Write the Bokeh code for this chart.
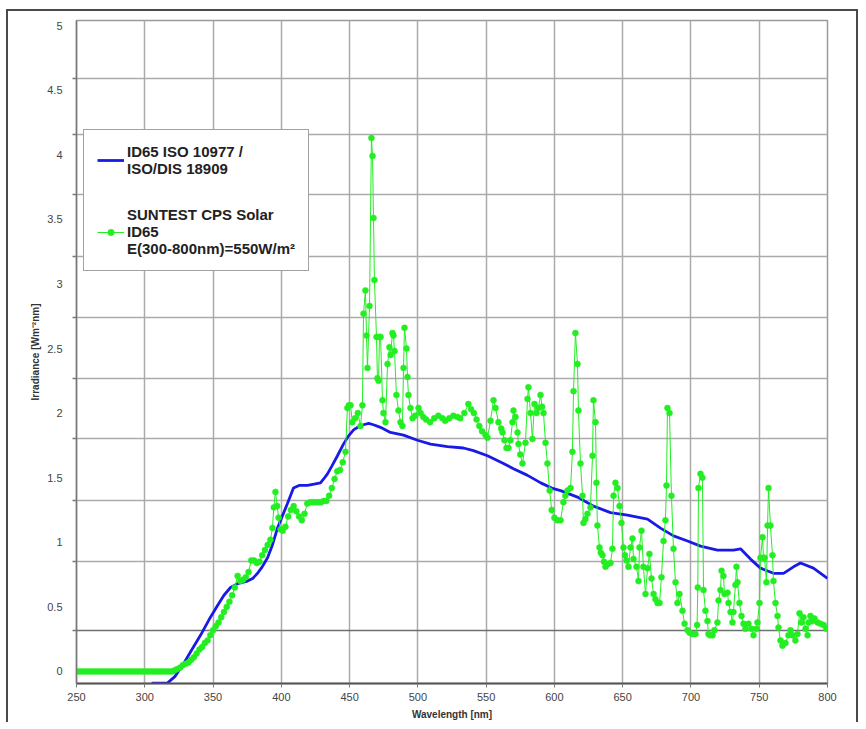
import numpy as np
from bokeh.plotting import figure
from bokeh.models import Range1d, FixedTicker, Grid, Legend, LegendItem
from bokeh.embed import file_html
from bokeh.resources import INLINE

# ---------------- data ----------------
x_ticks = [250, 300, 350, 400, 450, 500, 550, 600, 650, 700, 750, 800]
y_ticks = [0, 0.5, 1, 1.5, 2, 2.5, 3, 3.5, 4, 4.5, 5]

# ID65 ISO 10977 / ISO/DIS 18909 (blue)
blue_nm = [305, 316.6, 322, 328.4, 334, 340.8, 347, 353.3, 358, 362.8, 368,
           375.2, 379, 382.6, 386, 389.9, 393.5, 397.2, 401, 404.5, 408.9, 413,
           419.2, 424, 428.7, 431, 433.8, 437, 441.1, 445.5, 449, 452.9, 456,
           460.2, 464, 467.5, 472.6, 479.9, 489.5, 499.7, 509.3, 521.7, 533.4,
           540.7, 551, 562.7, 570, 580, 590, 598, 604.5, 616.9, 628.6, 641.1,
           653.5, 668.2, 677.7, 687.2, 697.5, 707, 719.4, 731.1, 736.3, 743.6,
           750.9, 760.4, 767.8, 775.1, 780.2, 789.7, 800]
blue_val = [-0.09, -0.09, -0.04, 0.06, 0.16, 0.28, 0.40, 0.51, 0.59, 0.65, 0.68,
            0.70, 0.72, 0.76, 0.81, 0.88, 0.98, 1.11, 1.21, 1.30, 1.42, 1.44,
            1.44, 1.45, 1.46, 1.49, 1.53, 1.59, 1.67, 1.76, 1.82, 1.87, 1.89,
            1.91, 1.92, 1.91, 1.89, 1.85, 1.83, 1.79, 1.76, 1.74, 1.73,
            1.71, 1.67, 1.61, 1.57, 1.52, 1.46, 1.42, 1.40, 1.35, 1.28, 1.23,
            1.21, 1.18, 1.11, 1.05, 1.01, 0.97, 0.94, 0.94, 0.95, 0.87,
            0.80, 0.76, 0.76, 0.81, 0.84, 0.80, 0.72]

# SUNTEST CPS Solar ID65 (green, measured points)
green_nm = [250, 252, 254, 256, 258, 260, 262, 264, 266, 268, 270, 272, 274, 276,
            278, 280, 282, 284, 286, 288, 290, 292, 294, 296, 298, 300, 302, 304,
            306, 308, 310, 312, 314, 316, 318,
            320, 322, 324, 326, 328, 330, 332, 334, 336, 338, 340, 342, 344, 346,
            348, 350, 352, 354, 356, 358, 360, 362, 364, 366, 368, 370, 372, 374,
            376, 378, 380, 382, 384, 386, 388, 390, 392, 393.5, 394.5, 395.7, 397,
            398, 399.5, 401, 403, 405, 407, 409, 411, 413, 415, 417, 419, 421, 423,
            425, 427, 429, 431, 433, 435, 437, 439, 441, 443, 445, 447, 448.4,
            449.5, 450.7, 452, 454, 456, 458, 459.4, 460.2, 461.6, 462.4, 463.1,
            464.6, 466.0, 466.8, 467.5, 468.2, 469.7, 470.4, 471.2, 471.9, 472.7,
            474.1, 474.8, 476.3, 477.8, 479.2, 480.0, 481.4, 482.1, 482.9, 484.3,
            485.8, 487.3, 488.7, 489.5, 490.2, 491.7, 492.4, 493.1, 494.6, 496.1,
            498, 500.5, 502, 504, 506, 509, 512, 515, 518, 520, 523, 526, 529, 531,
            534, 537, 539, 541, 543, 545, 547, 549.5, 551, 553.2, 555.4, 556.9, 559,
            561, 562, 563.4, 564.9, 566.4, 567.8, 569.3, 570, 571.5, 573, 573.7, 575,
            576.6, 578.8, 580.3, 581, 582.5, 583.9, 585.4, 586.9, 588.3, 589.8, 591,
            592, 593.5, 594.9, 596.5, 598, 600, 602, 604.5, 606.6, 608, 609.6, 611.8,
            613.2, 614, 615.4, 616.9, 617.6, 619.1, 620.6, 621.3, 622.7, 624.2,
            626.4, 627.9, 628.6, 630.1, 630.8, 631.5, 633, 634, 635.2, 636.3, 637.4,
            639, 641.1, 642.5, 643.3, 644.7, 646.2, 647.7, 649.1, 650.6, 651.7,
            652.8, 654.2, 655.7, 657.2, 657.9, 660.1, 661.6, 662.3, 663.8, 665.2,
            666.7, 668.2, 669.6, 671.1, 672.6, 674, 675.5, 677, 678.4, 679.9, 681.3,
            682.1, 682.8, 684.3, 685.7, 687.2, 688.7, 690.1, 691.6, 693.8, 695.3,
            697.5, 699, 701.1, 703.3, 704.5, 705, 705.5, 707, 708.4, 709.2, 710.6,
            712.1, 712.8, 714, 715.8, 717.2, 719.4, 720.2, 721.6, 722.4, 723.8,
            724.6, 726.8, 727.5, 729, 730.4, 731.1, 732.6, 733.3, 734.1, 735.5, 737,
            738.5, 739.9, 742.1, 744.3, 745.8, 748, 748.7, 750.2, 750.9, 752.4,
            753.1, 753.9, 755.3, 756.1, 756.8, 758.2, 759.7, 760.4, 761.9, 763.4,
            764.1, 765.6, 767, 769.2, 771.4, 772.9, 774.4, 776.5, 778, 779.5, 781,
            782.4, 783.9, 785.4, 786.1, 787.5, 789, 790.5, 792.7, 794.9, 797.1, 799.2]
green_val = [0.0, 0.0, 0.0, 0.0, 0.0, 0.0, 0.0, 0.0, 0.0, 0.0, 0.0, 0.0, 0.0, 0.0,
             0.0, 0.0, 0.0, 0.0, 0.0, 0.0, 0.0, 0.0, 0.0, 0.0, 0.0, 0.0, 0.0, 0.0,
             0.0, 0.0, 0.0, 0.0, 0.0, 0.0, 0.0,
             0.0, 0.01, 0.02, 0.03, 0.05, 0.06, 0.07, 0.09, 0.11, 0.14, 0.17, 0.19, 0.22, 0.24,
             0.28, 0.32, 0.35, 0.38, 0.42, 0.46, 0.50, 0.54, 0.59, 0.65, 0.74, 0.70, 0.71, 0.73,
             0.77, 0.86, 0.86, 0.84, 0.85, 0.90, 0.94, 0.98, 1.02, 1.11, 1.27, 1.39, 1.28,
             1.19, 1.10, 1.09, 1.12, 1.20, 1.25, 1.28, 1.24, 1.20, 1.17, 1.22, 1.30, 1.31, 1.31,
             1.31, 1.31, 1.31, 1.32, 1.32, 1.36, 1.42, 1.49, 1.55, 1.56, 1.62, 1.70, 2.04,
             2.06, 2.06, 1.93, 1.96, 2.00, 1.90, 2.06, 2.77, 2.95, 2.60, 2.35,
             2.83, 4.13, 3.99, 3.51, 3.03, 2.59, 2.27, 2.25, 2.59, 2.59,
             2.10, 2.00, 1.93, 2.38, 2.51, 2.45, 2.62, 2.60, 2.48, 2.14,
             2.02, 1.93, 1.90, 2.35, 2.66, 2.50, 2.28, 2.14, 2.04, 1.96,
             1.98, 2.04, 2.00, 1.97, 1.95, 1.93, 1.96, 1.98, 1.96, 1.94, 1.96, 1.98, 1.97, 1.96,
             2.00, 2.07, 2.03, 2.00, 1.95, 1.90, 1.86, 1.83, 1.81, 1.94, 2.10, 2.04, 1.93,
             1.88, 1.85, 1.79, 1.73, 1.73, 1.79, 1.93, 2.02, 1.97, 1.85, 1.76, 1.68,
             1.61, 1.77, 2.11, 2.20, 2.00, 1.80, 2.07, 2.00, 2.04, 2.14, 2.05,
             2.00, 1.77, 1.61, 1.40, 1.25, 1.19, 1.17, 1.17, 1.31, 1.36, 1.40, 1.42,
             1.70, 2.17, 2.62, 2.38, 2.02, 1.61, 1.36, 1.15, 1.18, 1.22,
             1.27, 1.67, 2.10, 1.93, 1.46, 1.13, 0.96, 0.92, 0.90, 0.85, 0.81,
             0.83, 0.84, 0.95, 1.36, 1.46, 1.42, 1.28, 1.15, 0.96, 0.90,
             0.86, 0.81, 0.96, 1.03, 0.87, 0.81, 0.70, 0.96, 1.09, 0.81,
             0.60, 0.80, 0.91, 0.72, 0.60, 0.56, 0.53, 0.53, 0.73, 1.01, 1.17,
             1.44, 2.04, 2.00, 1.36, 0.95, 0.69, 0.53, 0.60, 0.47, 0.37,
             0.32, 0.30, 0.29, 0.29, 0.36, 0.65, 1.42, 1.53, 1.50, 0.63, 0.47,
             0.39, 0.29, 0.28, 0.28, 0.32, 0.38, 0.55, 0.63, 0.78, 0.74,
             0.60, 0.61, 0.53, 0.46, 0.38, 0.46, 0.67, 0.81, 0.69, 0.53, 0.43,
             0.37, 0.33, 0.37, 0.33, 0.28, 0.33, 0.38, 0.53, 0.88, 1.04,
             0.88, 0.88, 0.69, 1.13, 1.42, 1.13, 0.90, 0.70, 0.53, 0.43,
             0.34, 0.24, 0.20, 0.22, 0.28, 0.32, 0.28, 0.24, 0.29, 0.45, 0.38,
             0.42, 0.33, 0.28, 0.38, 0.43, 0.39, 0.41, 0.38, 0.37, 0.36, 0.33]

# horizontal reference grid of the original (it does not sit on the tick labels)
grid_y = [0.85, 1.32, 1.80, 2.27, 2.74, 3.21, 3.69, 4.16, 4.59]
dark_grid_y = [0.32]

# ---------------- figure ----------------
FONT = "Liberation Sans"
p = figure(width=852, height=713, output_backend="svg", toolbar_location=None,
           x_range=Range1d(250, 800), y_range=Range1d(-0.093, 5.039),
           min_border_left=68, min_border_top=9, min_border_right=33,
           min_border_bottom=41, background_fill_color="white",
           border_fill_color="white")
# outer frame of the original figure (left, top and right edges)
p.styles = {"margin-left": "6px", "margin-top": "9px",
            "border-top": "2px solid #4a4a4a", "border-left": "2px solid #4a4a4a",
            "border-right": "2px solid #4a4a4a"}

p.outline_line_color = "#9a9a9a"
p.outline_line_width = 1.5

# axes
p.xaxis.ticker = FixedTicker(ticks=x_ticks)
p.yaxis.ticker = FixedTicker(ticks=y_ticks, minor_ticks=grid_y + dark_grid_y)
for ax in (p.xaxis[0], p.yaxis[0]):
    ax.major_label_text_font = FONT
    ax.major_label_text_font_size = "11px"
    ax.major_label_text_color = "#444444"
    ax.axis_label_text_font = FONT
    ax.axis_label_text_font_style = "bold"
    ax.axis_label_text_color = "#333333"
    ax.axis_label_text_font_size = "10px"
p.xaxis.axis_label = "Wavelength [nm]"
p.yaxis.axis_label = "Irradiance [Wm⁻²nm]"
p.xaxis.axis_line_color = "#555555"
p.xaxis.axis_line_width = 2
p.xaxis.major_tick_line_color = "#777777"
p.xaxis.major_tick_out = 4
p.xaxis.major_tick_in = 0
p.xaxis.minor_tick_line_color = None
p.xaxis.major_label_standoff = 5
p.xaxis.axis_label_standoff = 5
p.yaxis.axis_line_color = "#777777"
p.yaxis.axis_line_width = 1.5
p.yaxis.major_tick_out = 0
p.yaxis.major_tick_in = 0
p.yaxis.minor_tick_out = 4
p.yaxis.minor_tick_in = 0
p.yaxis.minor_tick_line_color = "#777777"
p.yaxis.minor_tick_line_width = 1.5
p.yaxis.major_label_standoff = 10
p.yaxis.axis_label_standoff = 3

# grid
p.xgrid.ticker = FixedTicker(ticks=x_ticks)
p.xgrid.grid_line_color = "#ababab"
p.xgrid.grid_line_width = 1.5
p.ygrid.ticker = FixedTicker(ticks=grid_y)
p.ygrid.grid_line_color = "#ababab"
p.ygrid.grid_line_width = 1.5
p.add_layout(Grid(dimension=1, ticker=FixedTicker(ticks=dark_grid_y),
                  grid_line_color="#707070", grid_line_width=1.5))

# series
blue_r = p.line(blue_nm, blue_val, line_color="#1a1ae6", line_width=2.8)
g_line = p.line(green_nm, green_val, line_color="#22ee22", line_width=1)
g_pts = p.scatter(green_nm, green_val, marker="circle", size=6,
                  fill_color="#22ee22", line_color="#22ee22", line_width=0.5)

legend = Legend(items=[
    LegendItem(label="ID65 ISO 10977 /\nISO/DIS 18909", renderers=[blue_r]),
    LegendItem(label="SUNTEST CPS Solar\nID65\nE(300-800nm)=550W/m²",
               renderers=[g_line, g_pts]),
], location=(7, 412))
legend.label_text_font = FONT
legend.label_text_font_style = "bold"
legend.label_text_font_size = "15px"
legend.label_text_color = "#222222"
legend.label_text_line_height = 1.2
legend.glyph_width = 27
legend.glyph_height = 16
legend.label_standoff = 3
legend.padding = 13
legend.spacing = 29
legend.margin = 0
legend.label_width = 167
legend.border_line_color = "#444444"
legend.border_line_width = 1.5
legend.background_fill_color = "white"
legend.background_fill_alpha = 1.0
p.add_layout(legend)

open("out.html", "w").write(file_html(p, INLINE))
